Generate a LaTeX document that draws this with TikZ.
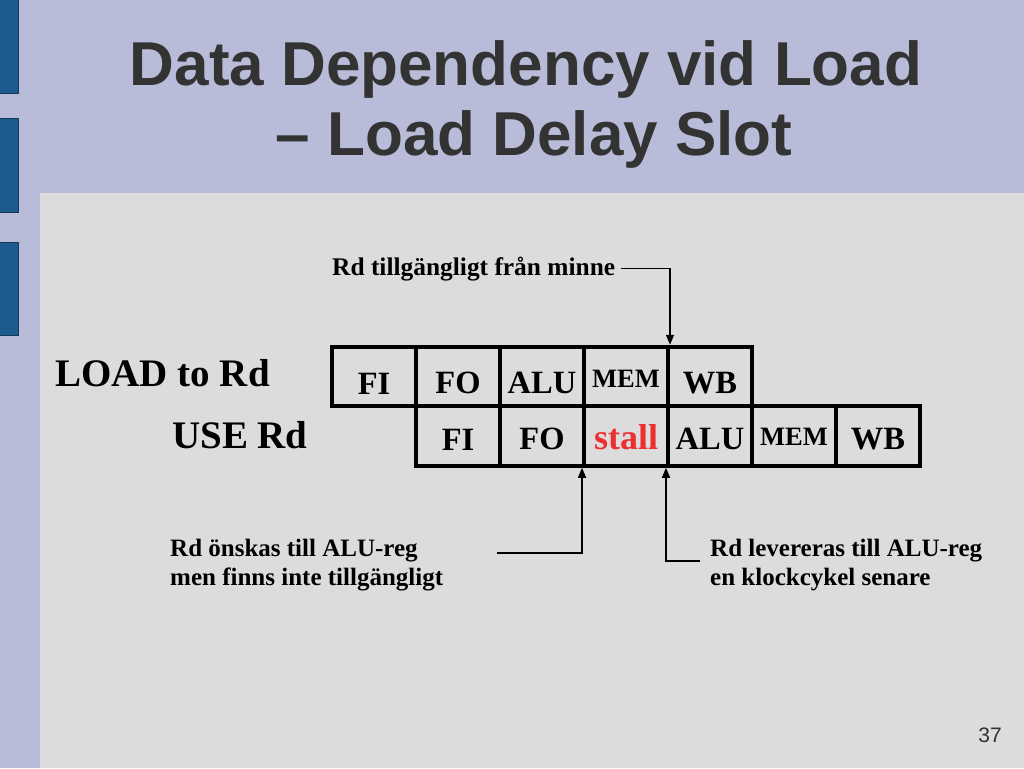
\documentclass[tikz,border=0pt]{standalone}
\usepackage{fontspec}
\setmainfont{Liberation Serif}
\newfontfamily\titlefont{Liberation Sans}
\usetikzlibrary{arrows.meta}
\definecolor{slidebg}{HTML}{B9BCD9}
\definecolor{panelbg}{HTML}{DCDCDC}
\definecolor{barblue}{HTML}{1B5B8D}
\definecolor{barline}{HTML}{12385A}
\definecolor{titlegray}{HTML}{333333}
\definecolor{stallred}{HTML}{EC2F2F}

\begin{document}
\begin{tikzpicture}[x=1pt,y=-1pt,
  cell/.style={draw,line width=4pt,minimum width=84pt,minimum height=59.5pt,inner sep=0pt,
    text height=35pt,font=\fontsize{32.5}{32.5}\selectfont\bfseries},
  lowcell/.style={cell,text height=28pt},
  memcell/.style={cell,text height=21pt,font=\fontsize{26.5}{26.5}\selectfont\bfseries},
  rowlabel/.style={anchor=base west,inner sep=0pt,font=\fontsize{39}{39}\selectfont\bfseries},
  note/.style={font=\fontsize{25}{28.5}\selectfont\bfseries,align=left,inner sep=0pt},
  pointer/.style={line width=1.5pt,-{Triangle[length=10pt,width=8pt]}}]
\useasboundingbox (0,0) rectangle (1024,768);
\fill[slidebg] (0,0) rectangle (1024,768);
\fill[panelbg] (40,193) rectangle (1024,768);
\foreach \ytop/\ybot in {-2/93,118/212,242/335}
  \draw[barline,fill=barblue,line width=1pt] (-2,\ytop) rectangle (18,\ybot);

% title
\node[anchor=base,inner sep=0pt,text=titlegray,font=\titlefont\fontsize{62}{62}\selectfont\bfseries]
  (title1) at (526,85) {Data Dependency vid Load};
\node[anchor=base,inner sep=0pt,text=titlegray,font=\titlefont\fontsize{62}{62}\selectfont\bfseries]
  (title2) at (534,155) {– Load Delay Slot};

% pipeline rows
\coordinate (r1) at (374,376.5);
\coordinate (r2) at (458,436);

\node[rowlabel] (loadlbl) at (55,386) {LOAD to Rd};
\node[rowlabel] (uselbl) at (172,448) {USE Rd};

\node[cell] (l1) at (r1) {FI};
\node[cell] (l2) at ([xshift=84pt]r1) {FO};
\node[cell] (l3) at ([xshift=168pt]r1) {ALU};
\node[memcell] (l4) at ([xshift=252pt]r1) {MEM};
\node[cell] (l5) at ([xshift=336pt]r1) {WB};

\node[lowcell] (u1) at (r2) {FI};
\node[lowcell] (u2) at ([xshift=84pt]r2) {FO};
\node[cell,text=stallred,text height=28pt,font=\fontsize{36}{36}\selectfont\bfseries] (u3) at ([xshift=168pt]r2) {stall};
\node[lowcell] (u4) at ([xshift=252pt]r2) {ALU};
\node[memcell,text height=18pt] (u5) at ([xshift=336pt]r2) {MEM};
\node[lowcell] (u6) at ([xshift=420pt]r2) {WB};

% notes and pointers
\node[anchor=base west,inner sep=6pt,font=\fontsize{25.4}{25.4}\selectfont\bfseries]
  (avail) at (326,275) {Rd tillgängligt från minne};
\node[note,anchor=north west] (want) at (170,539) {Rd önskas till ALU-reg\\men finns inte tillgängligt};
\node[note,anchor=north west] (deliv) at (710,539) {Rd levereras till ALU-reg\\en klockcykel senare};
\coordinate (wantend) at (497,553);
\coordinate (delivend) at (700,561);

\draw[pointer] (avail.east) -| (l4.north east);
\draw[pointer] (wantend) -| (u3.south west);
\draw[pointer] (delivend) -| (u4.south west);

\node[anchor=base east,inner sep=0pt,text=titlegray,font=\titlefont\fontsize{21}{21}\selectfont]
  (pageno) at (1002,742) {37};
\end{tikzpicture}
\end{document}
